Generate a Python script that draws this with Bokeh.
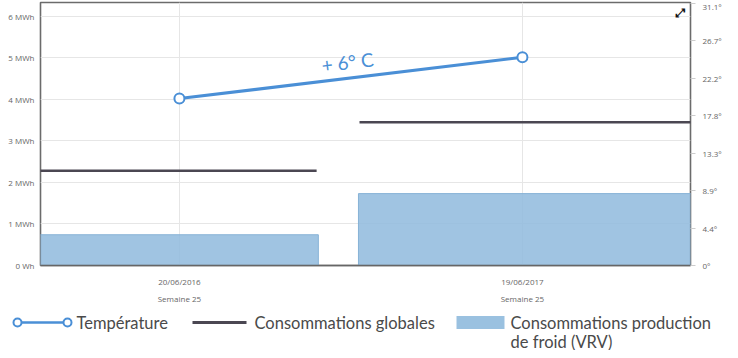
from bokeh.plotting import figure
from bokeh.models import (Range1d, LinearAxis, FixedTicker, CustomJSTickFormatter,
                          Label, ColumnDataSource)
from bokeh.layouts import column
from bokeh.core.properties import value
from bokeh.embed import file_html
from bokeh.resources import INLINE

# ---------------- data ----------------
dates = ["20/06/2016", "19/06/2017"]
weeks = ["Semaine 25", "Semaine 25"]
temperature = [19.8, 24.7]          # °C (right axis)
conso_globales = [2.28, 3.45]       # MWh
conso_vrv = [0.74, 1.73]            # MWh
left_ticks = [0, 1, 2, 3, 4, 5, 6]
temp_max = 31.11
right_ticks = [temp_max * i / 7 for i in range(8)]
annotation = "+ 6° C"

# ---------------- style / layout ----------------
BLUE = "#4a8fd6"
BAR = "#8fbadd"
DARK = "#4b4752"
TXT = "#666666"
FONT = "Open Sans"
LFONT = "Lato"
W = 730
MH = 310

xc = list(range(len(dates)))
left_pad = [0.42, 0.478]
right_pad = [0.405, 0.50]
seg_left_pad = [0.42, 0.475]
seg_right_pad = [0.40, 0.50]

p = figure(width=W, height=MH, output_backend="svg", toolbar_location=None,
           x_range=Range1d(-0.405, 1.49), y_range=Range1d(0, 6.33),
           min_border_left=40, min_border_right=W - 690, min_border_top=2,
           min_border_bottom=45)
p.extra_y_ranges = {"temp": Range1d(0, 31.2)}
p.outline_line_color = "#6b6b6b"
p.outline_line_width = 1.6
p.background_fill_color = "white"
p.border_fill_color = "white"

p.xgrid.ticker = FixedTicker(ticks=xc)
p.ygrid.ticker = FixedTicker(ticks=left_ticks)
p.xgrid.grid_line_color = "#e6e6e6"
p.ygrid.grid_line_color = "#e6e6e6"

bsrc = ColumnDataSource(dict(
    left=[c - l for c, l in zip(xc, left_pad)],
    right=[c + r for c, r in zip(xc, right_pad)],
    top=conso_vrv, bottom=[0] * len(xc)))
p.quad(left="left", right="right", top="top", bottom="bottom", source=bsrc,
       fill_color=BAR, fill_alpha=0.85, line_color="#86b2d6", line_width=1)

ssrc = ColumnDataSource(dict(
    x0=[c - l for c, l in zip(xc, seg_left_pad)],
    x1=[c + r for c, r in zip(xc, seg_right_pad)],
    y=conso_globales))
p.segment(x0="x0", y0="y", x1="x1", y1="y", source=ssrc,
          line_color=DARK, line_width=2.5)

p.line(xc, temperature, y_range_name="temp", line_color=BLUE, line_width=3)
p.scatter(xc, temperature, y_range_name="temp", marker="circle", size=10,
          fill_color="white", line_color=BLUE, line_width=2)

p.add_layout(Label(x=0.49, y=4.90, text=annotation, angle=0.117,
                   text_align="center", text_baseline="middle",
                   text_font=LFONT, text_font_size="19px", text_color=BLUE))
p.add_layout(Label(x=1.463, y=6.08, text="⤢", text_align="center",
                   text_baseline="middle", text_font="DejaVu Sans",
                   text_font_size="12px", text_font_style="bold",
                   text_color="#111111"))

ya = p.yaxis[0]
ya.ticker = FixedTicker(ticks=left_ticks)
ya.formatter = CustomJSTickFormatter(
    code="return tick == 0 ? '0 Wh' : tick + ' MWh';")
ya.axis_line_color = None
ya.major_tick_line_color = None
ya.minor_tick_line_color = None
ya.major_tick_out = 0
ya.major_tick_in = 0
ya.major_label_standoff = 6
ya.major_label_text_font = FONT
ya.major_label_text_font_size = "8px"
ya.major_label_text_color = TXT

ra = LinearAxis(y_range_name="temp", ticker=FixedTicker(ticks=right_ticks),
                formatter=CustomJSTickFormatter(
                    code="return tick == 0 ? '0°' : tick.toFixed(1) + '°';"))
ra.axis_line_color = None
ra.major_tick_line_color = "#cccccc"
ra.major_tick_out = 5
ra.major_tick_in = 0
ra.minor_tick_line_color = None
ra.major_label_standoff = 7
ra.major_label_text_font = FONT
ra.major_label_text_font_size = "8px"
ra.major_label_text_color = TXT
p.add_layout(ra, "right")

xa = p.xaxis[0]
xa.ticker = FixedTicker(ticks=xc)
xa.major_label_overrides = {c: d for c, d in zip(xc, dates)}
xa.axis_line_color = "#666666"
xa.axis_line_width = 1.5
xa.major_tick_line_color = None
xa.minor_tick_line_color = None
xa.major_tick_out = 0
xa.major_tick_in = 0
xa.major_label_standoff = 10
xa.major_label_text_font = FONT
xa.major_label_text_font_size = "8px"
xa.major_label_text_color = TXT

xb = LinearAxis(ticker=FixedTicker(ticks=xc),
                major_label_overrides={c: w for c, w in zip(xc, weeks)})
xb.axis_line_color = None
xb.major_tick_line_color = None
xb.minor_tick_line_color = None
xb.major_tick_out = 0
xb.major_tick_in = 0
xb.major_label_standoff = 3
xb.major_label_text_font = FONT
xb.major_label_text_font_size = "8px"
xb.major_label_text_color = TXT
p.add_layout(xb, "below")

# ---------------- legend strip ----------------
LH = 40
leg = figure(width=W, height=LH, output_backend="svg", toolbar_location=None,
             x_range=Range1d(0, W), y_range=Range1d(LH, 0),
             x_axis_type=None, y_axis_type=None,
             min_border_left=0, min_border_right=0, min_border_top=0,
             min_border_bottom=0)
leg.outline_line_color = None
leg.xgrid.visible = False
leg.ygrid.visible = False

ROW1 = 12
ROW2 = 31
LTXT = "#4a4a4a"
leg.line([17, 67], [ROW1, ROW1], line_color=BLUE, line_width=2.5)
leg.scatter([17, 67], [ROW1, ROW1], marker="circle", size=8,
            fill_color="white", line_color=BLUE, line_width=2)
leg.line([192, 246], [ROW1, ROW1], line_color=DARK, line_width=3)
leg.quad(left=[456], right=[504], top=[ROW1 - 6.5], bottom=[ROW1 + 6.5],
         fill_color=BAR, fill_alpha=0.9, line_color=None)
leg.text(x=[76, 254, 510, 510], y=[ROW1, ROW1, ROW1, ROW2],
         text=["Température", "Consommations globales",
               "Consommations production", "de froid (VRV)"],
         text_font=value(LFONT), text_font_size="16.5px", text_color=LTXT,
         text_baseline="middle", text_align="left")

layout = column(p, column(leg), spacing=0)
open("out.html", "w").write(file_html(layout, INLINE))
